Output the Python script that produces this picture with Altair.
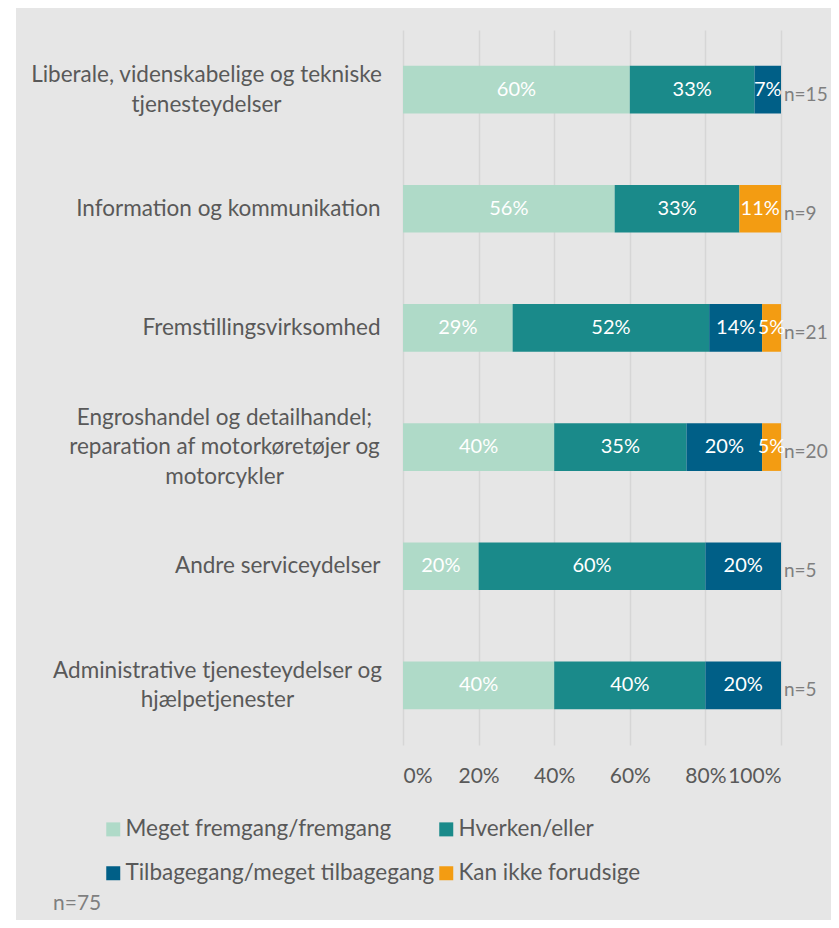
import altair as alt
import pandas as pd

FONT = "Lato"

categories = [
    "Liberale, videnskabelige og tekniske|tjenesteydelser",
    "Information og kommunikation",
    "Fremstillingsvirksomhed",
    "Engroshandel og detailhandel;|reparation af motorkøretøjer og|motorcykler",
    "Andre serviceydelser",
    "Administrative tjenesteydelser og|hjælpetjenester",
]
series = [
    "Meget fremgang/fremgang",
    "Hverken/eller",
    "Tilbagegang/meget tilbagegang",
    "Kan ikke forudsige",
]
fremgang = [60, 56, 29, 40, 20, 40]
hverken = [33, 33, 52, 35, 60, 40]
tilbagegang = [7, 0, 14, 20, 20, 20]
kan_ikke = [0, 11, 5, 5, 0, 0]
n_labels = ["n=15", "n=9", "n=21", "n=20", "n=5", "n=5"]
total_label = "n=75"
colors = ["#afdac8", "#1a8a8a", "#005f87", "#f39c12"]

rows = []
for i, cat in enumerate(categories):
    for j, vals in enumerate([fremgang, hverken, tilbagegang, kan_ikke]):
        v = vals[i]
        if v > 0:
            rows.append({"category": cat, "series": series[j], "order": j,
                         "value": v, "label": f"{v}%", "n": n_labels[i]})
df = pd.DataFrame(rows)

multi_pad = {
    "Liberale": 197,
    "Engroshandel": 179,
    "Administrative": 186,
}
pad_conditions = [
    {"test": f"indexof(datum.value, '{k}') === 0", "value": v}
    for k, v in multi_pad.items()
]
offset_conditions = [
    {"test": "length(split(datum.value, '|')) === 3", "value": -29.5},
    {"test": "length(split(datum.value, '|')) === 2", "value": -14.5},
]

y_enc = alt.Y(
    "category:N", sort=categories, title=None,
    scale=alt.Scale(paddingInner=0.6, paddingOuter=0.3),
    axis=alt.Axis(
        domain=False, ticks=False, grid=False,
        labelExpr="split(datum.label, '|')",
        labelFont=FONT, labelFontSize=22.5, labelColor="#595959",
        labelLineHeight=29.5, labelLimit=0,
        labelAlign={"condition": {"test": "indexof(datum.value, '|') >= 0", "value": "center"}, "value": "right"},
        labelPadding={"condition": pad_conditions, "value": 23},
        labelOffset={"condition": offset_conditions, "value": 0},
    ),
)

x_enc = alt.X(
    "value:Q", stack="zero", title=None,
    scale=alt.Scale(domain=[0, 100]),
    axis=alt.Axis(
        values=[0, 20, 40, 60, 80, 100], labelExpr="datum.value + '%'",
        domain=False, ticks=False, grid=True, gridColor="#d6d6d6", gridWidth=1.5,
        labelFont=FONT, labelFontSize=21, labelColor="#595959", labelPadding=20,
    ),
)

base = alt.Chart(df)

bars = base.mark_bar().encode(
    x=x_enc,
    y=y_enc,
    color=alt.Color(
        "series:N",
        scale=alt.Scale(domain=series, range=colors),
        legend=alt.Legend(
            title=None, orient="none", legendX=-301, legendY=788,
            direction="horizontal", columns=2,
            symbolType="square", symbolSize=196, symbolStrokeWidth=0,
            labelFont=FONT, labelFontSize=22.5, labelColor="#595959",
            labelOffset=1, columnPadding=0, rowPadding=21, padding=0, labelLimit=0,
        ),
    ),
    order=alt.Order("order:Q"),
)

seg_labels = (
    base.transform_stack(stack="value", as_=["x0", "x1"], groupby=["category"],
                         sort=[alt.SortField("order")])
    .transform_calculate(mid="(datum.x0 + datum.x1) / 2")
    .mark_text(color="white", font=FONT, fontSize=20, baseline="middle")
    .encode(x="mid:Q", y=alt.Y("category:N", sort=categories), text="label:N")
)

n_text = (
    base.transform_aggregate(total="sum(value)", groupby=["category", "n"])
    .mark_text(color="#7f7f7f", font=FONT, fontSize=19, align="left",
               baseline="middle", dx=3, dy=5)
    .encode(x="total:Q", y=alt.Y("category:N", sort=categories), text="n:N")
)

total_text = (
    alt.Chart(pd.DataFrame({"t": [total_label]}))
    .mark_text(color="#7f7f7f", font=FONT, fontSize=21, align="left", baseline="middle")
    .encode(x=alt.value(-350), y=alt.value(874), text="t:N")
)

strip = (
    alt.Chart(pd.DataFrame({"a": [0]}))
    .mark_rect(color="white")
    .encode(x=alt.value(-396), x2=alt.value(-387), y=alt.value(-30), y2=alt.value(1000))
)

chart = (
    alt.layer(bars, seg_labels, n_text, total_text, strip)
    .properties(
        width=378, height=715,
        padding={"left": 395, "top": 22, "right": 50, "bottom": 175},
        autosize="none",
        background="#e6e6e6",
    )
    .configure_view(stroke=None)
)

chart.save("out.html", embed_options={"renderer": "svg", "actions": False})
